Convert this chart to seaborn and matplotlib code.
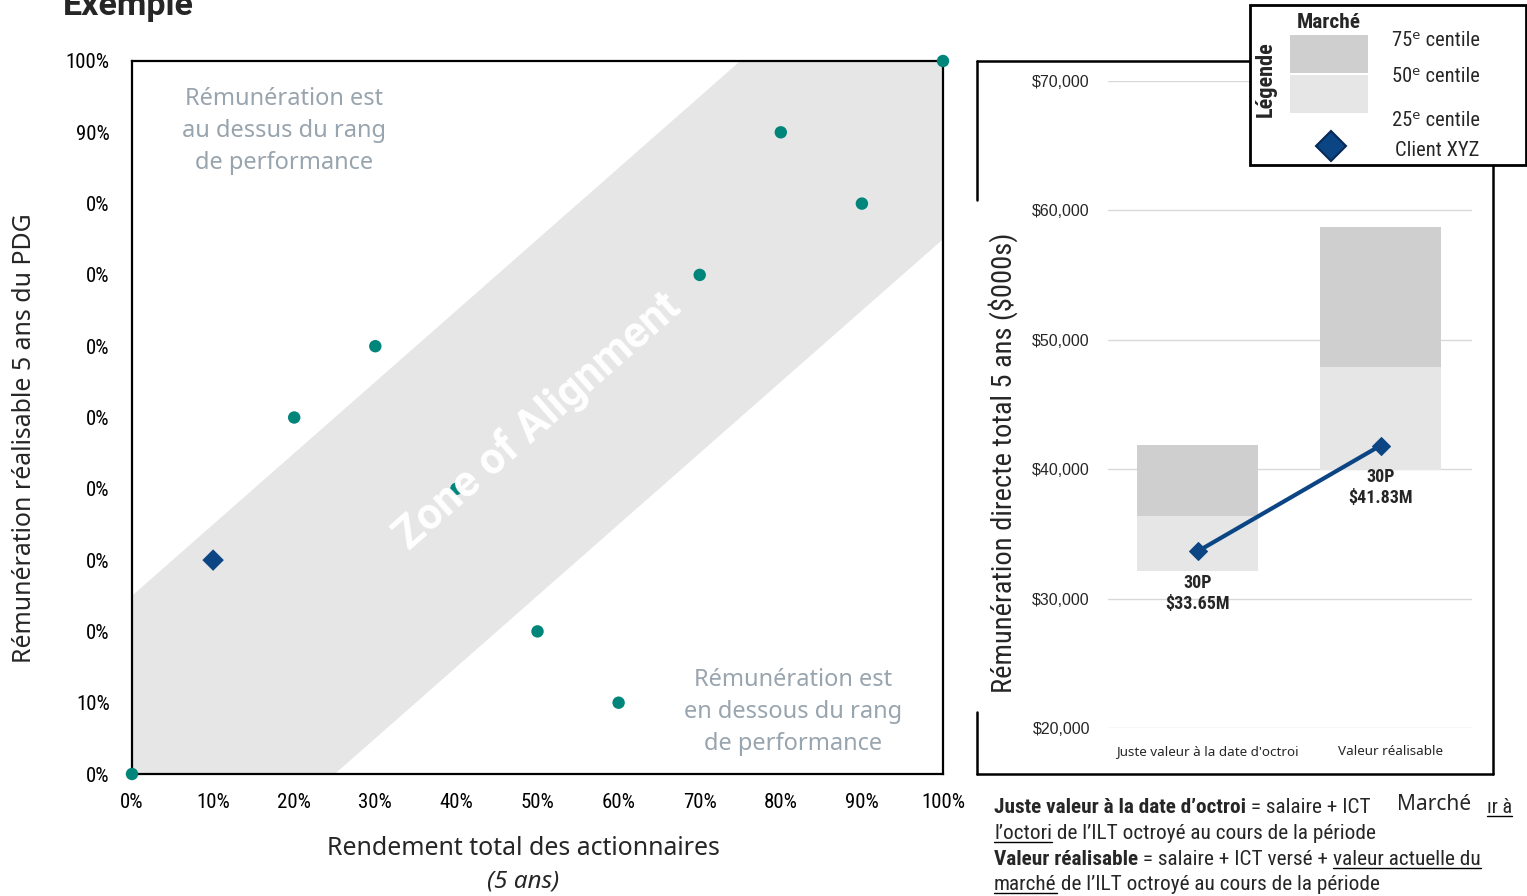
import matplotlib
matplotlib.use('Agg')
import numpy as np
import matplotlib.pyplot as plt
import seaborn as sns
from matplotlib import font_manager
from matplotlib.lines import Line2D
from matplotlib.patches import Rectangle
from matplotlib.transforms import ScaledTranslation

sns.set_theme(style='white')

avail = {f.name for f in font_manager.fontManager.ttflist}
def pick(*names):
    for n in names:
        if n in avail:
            return n
    return 'DejaVu Sans'

COND = pick('Roboto Condensed', 'Liberation Sans Narrow', 'Roboto')
SANS = pick('Noto Sans', 'Open Sans', 'Roboto')
ARIAL = pick('Liberation Sans', 'DejaVu Sans')
plt.rcParams['font.family'] = [COND, 'DejaVu Sans']

# ---- data: left chart (percentile ranks) ----
tsr_rank = [0, 20, 30, 40, 50, 60, 70, 80, 90, 100]
pay_rank = [0, 50, 60, 40, 20, 10, 70, 90, 80, 100]
client_tsr = [10]
client_pay = [30]
pct_ticks = [0, 10, 20, 30, 40, 50, 60, 70, 80, 90, 100]
y_tick_labels = ['0%', '10%', '0%', '0%', '0%', '0%', '0%', '0%', '0%', '90%', '100%']
x_tick_labels = ['0%', '10%', '20%', '30%', '40%', '50%', '60%', '70%', '80%', '90%', '100%']
zone_half = 25

# ---- data: right chart (5-yr total direct comp, $000s) ----
categories = ["Juste valeur à la date d'octroi", 'Valeur réalisable']
p25 = [32100, 39900]
p50 = [36400, 47900]
p75 = [41900, 58700]
client_value = [33650, 41830]
client_labels = ['30P\n$33.65M', '30P\n$41.83M']
money_ticks = [20000, 30000, 40000, 50000, 60000, 70000]

TEAL = '#00857a'
NAVY = '#0b4584'
DARK_GREY = '#d0cfd0'
LIGHT_GREY = '#e6e6e6'
TXT_GREY = '#98a4ae'

W, H = 1527, 896
fig = plt.figure(figsize=(W / 100, H / 100), dpi=100)
fig.patch.set_facecolor('white')

def fx(x):
    return x / W

def fy(y):
    return 1 - y / H

# ================= left chart =================
ax = fig.add_axes([fx(132), fy(774), 811 / W, 713 / H])
ax.set_facecolor('white')
band_x = np.array([0, 100])
ax.fill_between(band_x, band_x - zone_half, band_x + zone_half, color=LIGHT_GREY, lw=0, zorder=1)
sns.scatterplot(x=tsr_rank, y=pay_rank, ax=ax, color=TEAL, s=80, edgecolor='none', zorder=3, clip_on=False)
sns.scatterplot(x=client_tsr, y=client_pay, ax=ax, color=NAVY, marker='D', s=120, edgecolor='none',
                zorder=4, clip_on=False)
ax.set_xlim(0, 100)
ax.set_ylim(0, 100)
ax.set_xticks(pct_ticks)
ax.set_xticklabels(x_tick_labels)
ax.set_yticks(pct_ticks)
ax.set_yticklabels(y_tick_labels)
ax.tick_params(axis='x', length=0, pad=14, labelsize=15, colors='black')
ax.tick_params(axis='y', length=0, pad=16, labelsize=15, colors='black')
for s in ax.spines.values():
    s.set_visible(True)
    s.set_color('black')
    s.set_linewidth(1.6)
ax.grid(False)

ax.text(50, 49.5, 'Zone of Alignment', rotation=41.3, rotation_mode='anchor', ha='center', va='center',
        color='white', fontsize=31.5, fontweight='bold', family=['Roboto', 'DejaVu Sans'], zorder=5)
ax.text(18.8, 90.2, 'Rémunération est\nau dessus du rang\nde performance', ha='center', va='center',
        color=TXT_GREY, fontsize=17, family=[SANS, 'DejaVu Sans'], linespacing=1.45, zorder=5)
ax.text(81.5, 8.7, 'Rémunération est\nen dessous du rang\nde performance', ha='center', va='center',
        color=TXT_GREY, fontsize=17, family=[SANS, 'DejaVu Sans'], linespacing=1.45, zorder=5)

fig.text(fx(25), fy(438), 'Rémunération réalisable 5 ans du PDG', rotation=90, ha='center', va='center',
         fontsize=17.9, family=[SANS, 'DejaVu Sans'])
fig.text(fx(523), fy(848), 'Rendement total des actionnaires', ha='center', va='center',
         fontsize=17.9, family=[SANS, 'DejaVu Sans'])
fig.text(fx(523), fy(881), '(5 ans)', ha='center', va='center', fontsize=17.5, style='italic',
         family=[SANS, 'DejaVu Sans'])
fig.text(fx(63), fy(15), 'Exemple', ha='left', va='baseline', fontsize=24.5, fontweight='bold',
         family=['Roboto', 'DejaVu Sans'])

# ================= right chart =================
ax2 = fig.add_axes([fx(1108), fy(728), 364 / W, 647 / H])
ax2.set_facecolor('none')
xpos = np.arange(len(categories))
ax2.bar(xpos, np.array(p50) - np.array(p25), bottom=p25, width=0.66, color=LIGHT_GREY, lw=0, zorder=2)
ax2.bar(xpos, np.array(p75) - np.array(p50), bottom=p50, width=0.66, color=DARK_GREY, lw=0, zorder=2)
sns.lineplot(x=xpos, y=client_value, ax=ax2, color=NAVY, lw=3, marker='D', markersize=9,
             markeredgecolor=NAVY, zorder=4)
for xi, yi, lab in zip(xpos, client_value, client_labels):
    ax2.annotate(lab, (xi, yi), xytext=(0, -16), textcoords='offset points', ha='center', va='top',
                 fontsize=13, fontweight='bold', linespacing=1.25, zorder=5)
ax2.set_xlim(-0.49, 1.5)
ax2.set_ylim(20000, 70000)
ax2.set_yticks(money_ticks)
ax2.set_yticklabels(['${:,.0f}'.format(v) for v in money_ticks], family=[ARIAL])
ax2.set_xticks(xpos)
ax2.set_xticklabels(categories, family=[SANS, 'DejaVu Sans'])
ax2.tick_params(axis='y', length=0, pad=13, labelsize=11.5)
ax2.tick_params(axis='x', length=0, pad=12, labelsize=9.7)
shift = ScaledTranslation(0.1, 0, fig.dpi_scale_trans)
for lab in ax2.get_xticklabels():
    lab.set_transform(lab.get_transform() + shift)
for s in ax2.spines.values():
    s.set_visible(False)
ax2.yaxis.grid(True, color='#d9d9d9', lw=1)
ax2.set_axisbelow(True)

fig.text(fx(1003), fy(463), 'Rémunération directe total 5 ans ($000s)', rotation=90, ha='center',
         va='center', fontsize=20.5)

# frame around the right panel
frame_kw = dict(color='black', lw=1.8, transform=fig.transFigure)
fig.add_artist(Line2D([fx(977), fx(1250)], [fy(61), fy(61)], **frame_kw))
fig.add_artist(Line2D([fx(977), fx(1493)], [fy(774), fy(774)], **frame_kw))
fig.add_artist(Line2D([fx(1493), fx(1493)], [fy(165), fy(774)], **frame_kw))
fig.add_artist(Line2D([fx(977), fx(977)], [fy(61), fy(200)], **frame_kw))
fig.add_artist(Line2D([fx(977), fx(977)], [fy(712), fy(774)], **frame_kw))

# ================= legend box =================
fig.add_artist(Rectangle((fx(1250), fy(165)), 276 / W, 160 / H, transform=fig.transFigure,
                         facecolor='white', edgecolor='black', lw=2, zorder=3))
fig.add_artist(Rectangle((fx(1290), fy(73)), 78 / W, 38 / H, transform=fig.transFigure,
                         facecolor=DARK_GREY, edgecolor='none', zorder=4))
fig.add_artist(Rectangle((fx(1290), fy(113)), 78 / W, 38 / H, transform=fig.transFigure,
                         facecolor=LIGHT_GREY, edgecolor='none', zorder=4))
fig.add_artist(Line2D([fx(1331)], [fy(146)], marker='D', markersize=15, color=NAVY,
                      markeredgecolor='#062a57', markeredgewidth=1.5, transform=fig.transFigure, zorder=4))
fig.text(fx(1266), fy(79), 'Légende', rotation=90, ha='center', va='center', fontsize=16,
         fontweight='bold', zorder=5)
fig.text(fx(1329), fy(23), 'Marché', ha='center', va='center', fontsize=15.4, fontweight='bold', zorder=5)
for yy, lab in [(41, '75ᵉ centile'), (76, '50ᵉ centile'), (120, '25ᵉ centile'), (151, 'Client XYZ')]:
    xx = 1395 if lab.startswith('Client') else 1392
    fig.text(fx(xx), fy(yy), lab, ha='left', va='center', fontsize=14.8, zorder=5)

# ================= footer text =================
renderer = fig.canvas.get_renderer()

def rich_line(x_px, base_px, pieces, size=15.3):
    x = x_px
    for txt, weight, under in pieces:
        t = fig.text(fx(x), fy(base_px), txt, ha='left', va='baseline', fontsize=size, fontweight=weight)
        bb = t.get_window_extent(renderer)
        if under:
            fig.add_artist(Line2D([fx(x), fx(x + bb.width)], [fy(base_px + 3)] * 2, color='black', lw=1,
                                  transform=fig.transFigure))
        x += bb.width
    return x

rich_line(994, 813, [('Juste valeur à la date d’octroi', 'bold', False), (' = salaire + ICT', 'normal', False)])
fig.text(fx(1397), fy(804), 'Marché', ha='left', va='center', fontsize=15, family=[SANS, 'DejaVu Sans'])
rich_line(1487, 813, [('ır à', 'normal', True)], size=14.5)
rich_line(994, 839, [('l’octori', 'normal', True), (' de l’ILT octroyé au cours de la période', 'normal', False)])
rich_line(994, 865, [('Valeur réalisable', 'bold', False), (' = salaire + ICT versé + ', 'normal', False),
                     ('valeur actuelle du', 'normal', True)])
rich_line(994, 890, [('marché', 'normal', True), (' de l’ILT octroyé au cours de la période', 'normal', False)])

fig.savefig('out.png', dpi=100, facecolor='white')
